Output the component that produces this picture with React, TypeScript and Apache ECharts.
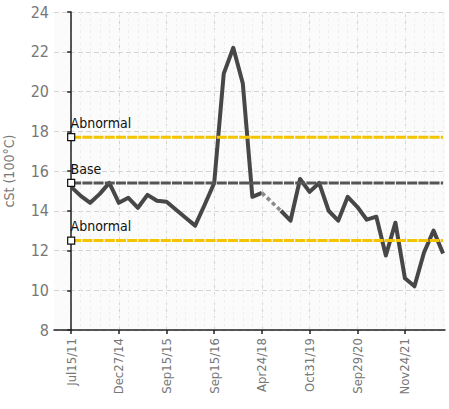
import React, { useEffect, useRef } from "react";
import * as echarts from "echarts";

const tickLabels = ["Jul15/11", "Dec27/14", "Sep15/15", "Sep15/16", "Apr24/18", "Oct31/19", "Sep29/20", "Nov24/21"];
const tickPositions = [0, 5, 10, 15, 20, 25, 30, 35];
const viscosity: (number | null)[] = [
  15.2, 14.75, 14.4, 14.85, 15.4, 14.4, 14.65, 14.15, 14.8, 14.5,
  14.45, 14.05, 13.65, 13.25, 14.3, 15.4, 20.9, 22.2, 20.4, 14.7,
  14.9, null, 14.0, 13.5, 15.6, 14.95, 15.4, 14.0, 13.5, 14.7,
  14.2, 13.55, 13.7, 11.75, 13.4, 10.6, 10.2, 11.9, 13.0, 11.85,
];
const abnormalHigh = 17.7;
const baseValue = 15.4;
const abnormalLow = 12.5;
const yTicks = { min: 8, max: 24, interval: 2 };

const FONT = "'Liberation Sans Narrow', 'DejaVu Sans Condensed', sans-serif";

export default function App() {
  const ref = useRef<HTMLDivElement>(null);
  useEffect(() => {
    document.body.style.margin = "0";
    const chart = echarts.init(ref.current!, null, { renderer: "svg" });
    const n = viscosity.length;
    const xMin = -1.8;
    const xMax = n - 1 + 0.2;
    const mainData = viscosity.map((v, i) => [i, v]);
    const gapData: any[] = [];
    viscosity.forEach((v, i) => {
      if (v === null && i > 0 && i < n - 1) {
        gapData.push([i - 1, viscosity[i - 1]], [i + 1, viscosity[i + 1]]);
      }
    });
    const allIdx = viscosity.map((_, i) => i);

    const refSeries = (name: string, value: number, color: string, labelText: string) => ({
      type: "line",
      name,
      data: [
        {
          value: [0, value],
          symbol: "rect",
          symbolSize: 7,
          label: {
            show: true,
            formatter: labelText,
            position: [3.5, -17],
            color: "#111",
            fontSize: 14,
            fontFamily: FONT,
          },
        },
        { value: [n - 1, value], symbol: "none" },
      ],
      lineStyle: { color, width: 3, type: [10, 1.2] },
      itemStyle: { color: "#fff", borderColor: "#111", borderWidth: 1.2 },
      z: 4,
      silent: true,
    });

    chart.setOption({
      animation: false,
      grid: { left: 54, right: 4, top: 12, bottom: 79, outerBoundsMode: "none", show: true, backgroundColor: "#fbfbfb", borderWidth: 0 },
      xAxis: [
        {
          type: "value",
          min: xMin,
          max: xMax,
          axisLine: { show: true, lineStyle: { color: "#222", width: 1.5 } },
          axisTick: { show: true, length: 4, customValues: tickPositions, lineStyle: { color: "#222", width: 1.5 } },
          axisLabel: {
            customValues: tickPositions,
            rotate: 90,
            margin: 8,
            color: "#777",
            fontSize: 13,
            fontFamily: FONT,
            formatter: (v: number) => tickLabels[tickPositions.indexOf(Math.round(v))] ?? "",
          },
          splitLine: { show: true, lineStyle: { color: "#d4d4d4", type: [5, 3], width: 1 } },
        },
        {
          type: "value",
          min: xMin,
          max: xMax,
          position: "bottom",
          axisLine: { show: false },
          axisTick: { show: false, customValues: allIdx },
          axisLabel: { show: false, customValues: allIdx },
          splitLine: { show: true, lineStyle: { color: "#efefef", type: [3, 3], width: 1 } },
        },
      ],
      yAxis: {
        type: "value",
        min: yTicks.min,
        max: yTicks.max,
        interval: yTicks.interval,
        name: "cSt (100°C)",
        nameLocation: "middle",
        nameGap: 38,
        nameTextStyle: { color: "#777", fontSize: 14, fontFamily: FONT },
        axisLine: { show: true, lineStyle: { color: "#222", width: 1.5 } },
        axisTick: { show: true, length: 4, lineStyle: { color: "#222", width: 1.5 } },
        axisLabel: { color: "#777", fontSize: 16, fontFamily: FONT, margin: 5 },
        splitLine: { show: true, lineStyle: { color: "#d4d4d4", type: [5, 3], width: 1 } },
      },
      series: [
        {
          type: "line",
          name: "cSt",
          data: mainData,
          connectNulls: false,
          showSymbol: false,
          symbol: "none",
          lineStyle: { color: "#474747", width: 4, join: "round" },
          z: 3,
          silent: true,
        },
        {
          type: "line",
          name: "gap",
          data: gapData,
          symbol: "none",
          lineStyle: { color: "#8a8a8a", width: 3.5, type: [4, 3] },
          z: 3,
          silent: true,
        },
        refSeries("Abnormal high", abnormalHigh, "#f5c400", "Abnormal"),
        refSeries("Base", baseValue, "#555555", "Base"),
        refSeries("Abnormal low", abnormalLow, "#f5c400", "Abnormal"),
      ],
    });
    return () => chart.dispose();
  }, []);
  return <div ref={ref} style={{ width: 449, height: 409 }} />;
}
